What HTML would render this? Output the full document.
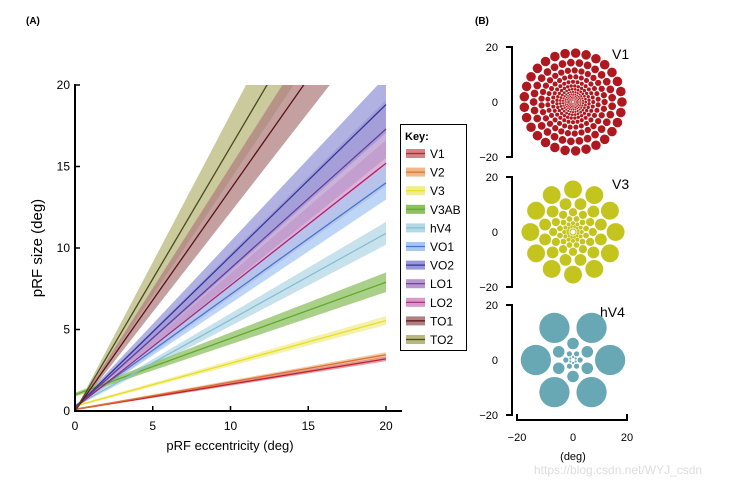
<!DOCTYPE html>
<html><head><meta charset="utf-8">
<style>
body{margin:0;background:#fff;}
svg{display:block;font-family:"Liberation Sans",sans-serif;}
</style></head>
<body>
<svg id="fig" width="755" height="489" viewBox="0 0 755 489">
<text x="26" y="24" font-size="10" font-weight="bold">(A)</text>
<text x="475" y="24" font-size="10" font-weight="bold">(B)</text>
<defs><clipPath id="plotclip"><rect x="75" y="85" width="312" height="327"/></clipPath></defs>
<g id="bands" clip-path="url(#plotclip)"></g>
<g id="lines" clip-path="url(#plotclip)"></g>
<g id="axes"></g>
<g id="legend"></g>
<g id="rf"></g>
<text x="534" y="474" font-size="12" fill="#ddd">https://blog.csdn.net/WYJ_csdn</text>
</svg>
<script>
const areas = ["V1","V2","V3","V3AB","hV4","VO1","VO2","LO1","LO2","TO1","TO2"];
const intercepts = [0.1,0.1,0.3,1.0,0.3,0.3,0.2,0.2,0.2,0.0,0.0];
const slopes = [0.155,0.1675,0.2625,0.345,0.53,0.685,0.93,0.855,0.75,1.36,1.62];
const bandFrac = [0.03,0.03,0.04,0.07,0.06,0.07,0.09,0.1,0.09,0.1,0.12];
const lineColors = ["#c0202a","#dd7030","#e6df1e","#62a82a","#86bfd2","#4478cc","#35359a","#683a9a","#a0287a","#5a1414","#4a4a22"];
const bandColors = ["#d88088","#f0b888","#f0ec90","#8cc060","#b4d8e6","#a8c8f2","#9898d8","#b898cc","#d898c8","#b08080","#b8b87c"];
const xTicks = [0,5,10,15,20];
const yTicks = [0,5,10,15,20];
// receptive field rings: [eccentricity, diameter, count, angle offset (deg)]
const v3Rings = [[15.5,6.5,12,0],[10.5,4.3,12,15],[7.2,3.0,12,0],[4.9,2.1,12,15],[3.2,1.5,12,0],[2.0,1.0,12,15],[1.1,0.6,12,0]];
const hv4Rings = [[13.5,11,6,0],[6.0,4.2,6,30],[2.6,1.9,6,0],[1.1,0.8,6,30]];

const NS="http://www.w3.org/2000/svg";
function mk(tag,attrs,parent){const e=document.createElementNS(NS,tag);for(const k in attrs)e.setAttribute(k,attrs[k]);parent.appendChild(e);return e;}
const X0=75,X1=386,Y0=411,Y1=85;
const xs=v=>X0+(X1-X0)*v/20;
const ys=v=>Y0-(Y0-Y1)*v/20;
const bandsG=document.getElementById('bands'),linesG=document.getElementById('lines'),axesG=document.getElementById('axes'),legG=document.getElementById('legend'),rfG=document.getElementById('rf');

for(let i=areas.length-1;i>=0;i--){
  const f=x=>intercepts[i]+slopes[i]*x;
  const w=x=>bandFrac[i]*f(x)+0.05;
  const pts=[[0,f(0)+w(0)],[20,f(20)+w(20)],[20,f(20)-w(20)],[0,f(0)-w(0)]].map(p=>xs(p[0])+','+ys(p[1])).join(' ');
  const b=mk('polygon',{points:pts,fill:bandColors[i],'fill-opacity':0.75},bandsG);
  
  
}
for(let i=0;i<areas.length;i++){
  const l=mk('line',{x1:xs(0),y1:ys(intercepts[i]),x2:xs(20),y2:ys(intercepts[i]+slopes[i]*20),stroke:lineColors[i],'stroke-width':1.3},linesG);
  
  
}
mk('line',{x1:X0,y1:Y1-1,x2:X0,y2:Y0+1,stroke:'#000','stroke-width':2},axesG);
mk('line',{x1:X0-1,y1:Y0,x2:402,y2:Y0,stroke:'#000','stroke-width':2},axesG);
for(const t of xTicks){
  mk('line',{x1:xs(t),y1:Y0,x2:xs(t),y2:Y0-5,stroke:'#000','stroke-width':1.5},axesG);
  const tx=mk('text',{x:xs(t),y:Y0+19,'font-size':12,'text-anchor':'middle'},axesG);tx.textContent=t;
  
  
}
for(const t of yTicks){
  mk('line',{x1:X0,y1:ys(t),x2:X0+5,y2:ys(t),stroke:'#000','stroke-width':1.5},axesG);
  const tx=mk('text',{x:X0-5,y:ys(t)+4,'font-size':12,'text-anchor':'end'},axesG);tx.textContent=t;
  
  
}
let xt=mk('text',{x:230,y:450,'font-size':13,'text-anchor':'middle'},axesG);xt.textContent='pRF eccentricity (deg)';


let yt=mk('text',{x:42,y:248,'font-size':15,'text-anchor':'middle',transform:'rotate(-90 42 248)'},axesG);yt.textContent='pRF size (deg)';


mk('rect',{x:400.5,y:124.5,width:66,height:226,fill:'#fff',stroke:'#000','stroke-width':1},legG);
let kt=mk('text',{x:405,y:140,'font-size':11,'font-weight':'bold'},legG);kt.textContent='Key:';
for(let i=0;i<areas.length;i++){
  const y=153.5+i*18.6;
  const g=mk('g',{},legG);
  
  
  mk('rect',{x:406,y:y-4.5,width:19,height:9,fill:bandColors[i]},g);
  mk('line',{x1:406,y1:y,x2:425,y2:y,stroke:lineColors[i],'stroke-width':1.2},g);
  const t=mk('text',{x:430,y:y+4.5,'font-size':12},g);t.textContent=areas[i];
}
const panels=[{name:'V1',cy:102,color:'#b01820'},
              {name:'V3',cy:232,color:'#c4c41e'},
              {name:'hV4',cy:360,color:'#68a8b4'}];
const cx=573,sc=55/20;
for(const p of panels){
  const g=mk('g',{},rfG);
  
  
  mk('path',{d:`M506 ${p.cy-55} H512 V${p.cy+55} H506`,fill:'none',stroke:'#000','stroke-width':2},g);
  [['20',-55],['0',0],['\u221220',55]].forEach(([v,o])=>{const t=mk('text',{x:498,y:p.cy+o+4,'font-size':11,'text-anchor':'end'},g);t.textContent=v;});
  const l=mk('text',{x:p.name==='hV4'?600:612,y:p.cy-43,'font-size':14},g);l.textContent=p.name;
  let rings=[];
  if(p.name==='V1'){
    let r=17.8, idx=0;
    while(r>0.3){
      const d=0.1+0.19*r;
      const n=Math.max(4,Math.floor(2*Math.PI*r/(d*1.08)));
      rings.push([r,d,n,(idx%2)*180/n]);
      r-=d*1.0; idx++;
    }
  } else rings = p.name==='V3'?v3Rings:hv4Rings;
  for(const [r,d,n,off] of rings){
    for(let k=0;k<n;k++){
      const th=(off+360*k/n)*Math.PI/180;
      mk('circle',{cx:cx+sc*r*Math.cos(th),cy:p.cy-sc*r*Math.sin(th),r:sc*d/2,fill:p.color},g);
    }
  }
}
mk('path',{d:'M517 414 V420 H627 V414',fill:'none',stroke:'#000','stroke-width':2},rfG);
[['\u221220',517],['0',573],['20',627]].forEach(([s,x])=>{const t=mk('text',{x:x,y:441,'font-size':11,'text-anchor':'middle'},rfG);t.textContent=s;});
let dg=mk('text',{x:573,y:460,'font-size':11,'text-anchor':'middle'},rfG);dg.textContent='(deg)';
</script>
</body></html>
